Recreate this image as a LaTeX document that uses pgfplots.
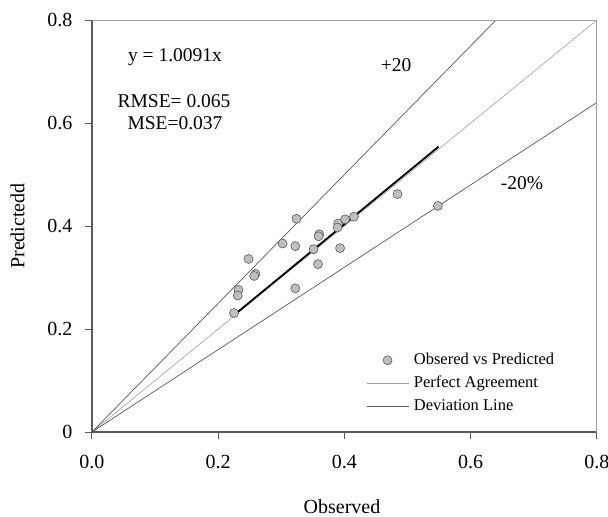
\documentclass[border=0pt]{standalone}
\usepackage{pgfplots}
\pgfplotsset{compat=1.18}
\usepackage{fontspec}
\setmainfont{Liberation Serif}
\definecolor{axdark}{gray}{0.35}
\definecolor{axlight}{gray}{0.62}
\definecolor{mk}{gray}{0.75}
\pgfplotsset{
  linelegend/.style={legend image code/.code={\draw[##1] (0bp,0bp) -- (42bp,0bp);}},
  marklegend/.style={legend image code/.code={\path[draw=none] (0bp,0bp) -- (42bp,0bp); \path[##1, draw=none] plot[only marks] coordinates {(21bp,0bp)};}},
}
\begin{document}
\begin{tikzpicture}
\begin{axis}[
  scale only axis, width=505bp, height=412bp,
  xmin=0, xmax=0.8, ymin=0, ymax=0.8,
  axis lines*=left,
  axis line style={axdark, line width=1.4bp},
  clip=false,
  xtick={0,0.2,0.4,0.6,0.8}, xticklabels={0.0,0.2,0.4,0.6,0.8},
  ytick={0,0.2,0.4,0.6,0.8}, yticklabels={0,0.2,0.4,0.6,0.8},
  tick align=outside, major tick length=7bp,
  tick style={axdark, line width=1bp},
  tick label style={font=\fontsize{20bp}{24bp}\selectfont},
  xticklabel style={yshift=-13bp},
  yticklabel style={xshift=-9bp},
  label style={font=\fontsize{20bp}{24bp}\selectfont},
  xlabel={Observed}, ylabel={Predictedd},
  xlabel style={at={(axis description cs:0.495,-0.181)}, anchor=center},
  ylabel style={at={(axis description cs:-0.1475,0.5)}, anchor=center},
  legend style={at={(axis description cs:0.5426,0.194)}, anchor=north west,
    draw=none, fill=none, font=\fontsize{16.5bp}{19bp}\selectfont,
    inner sep=0pt, row sep=7bp, column sep=5bp,
    nodes={inner sep=0pt, text height=12bp, text depth=4bp}},
  legend cell align=left,
]
\addlegendimage{mark=*, mark size=4.5bp, mark options={fill=mk, draw=axdark, line width=0.6bp}, marklegend}
\addlegendimage{axlight, line width=0.6bp, linelegend}
\addlegendimage{axdark, line width=0.7bp, linelegend}
\legend{Obsered vs Predicted, Perfect Agreement, Deviation Line}

\addplot[forget plot, axlight, line width=0.6bp] coordinates {(0,0) (0.8,0.8)};
\addplot[forget plot, axdark, line width=0.7bp] coordinates {(0,0) (0.64,0.8)};
\addplot[forget plot, axdark, line width=0.7bp] coordinates {(0,0) (0.8,0.64)};
\addplot[forget plot, black, line width=1.8bp] coordinates {(0.226,0.228) (0.549,0.554)};
\addplot[forget plot, only marks, mark=*, mark size=4.5bp, mark options={fill=mk, draw=axdark, line width=0.6bp}] table {
x y
0.225 0.231
0.232 0.276
0.231 0.265
0.248 0.336
0.259 0.307
0.257 0.303
0.302 0.366
0.324 0.414
0.322 0.361
0.322 0.279
0.351 0.355
0.358 0.326
0.360 0.384
0.359 0.380
0.393 0.357
0.390 0.405
0.389 0.397
0.401 0.413
0.415 0.418
0.484 0.462
0.548 0.439
};
\draw[axlight, line width=1bp] (axis cs:0,0.8) -- (axis cs:0.8,0.8) -- (axis cs:0.8,0);
\node[font=\fontsize{19.5bp}{23bp}\selectfont] at (axis cs:0.1315,0.728) {y = 1.0091x};
\node[font=\fontsize{19.5bp}{23bp}\selectfont] at (axis cs:0.130,0.643) {RMSE= 0.065};
\node[font=\fontsize{19.5bp}{23bp}\selectfont] at (axis cs:0.1315,0.600) {MSE=0.037};
\node[font=\fontsize{19.5bp}{23bp}\selectfont] at (axis cs:0.4816,0.7126) {+20};
\node[font=\fontsize{19.5bp}{23bp}\selectfont] at (axis cs:0.681,0.4835) {-20\%};
\end{axis}
\pgfresetboundingbox
\path[use as bounding box] (-92bp,-85bp) rectangle (516bp,432bp);
\end{tikzpicture}
\end{document}
